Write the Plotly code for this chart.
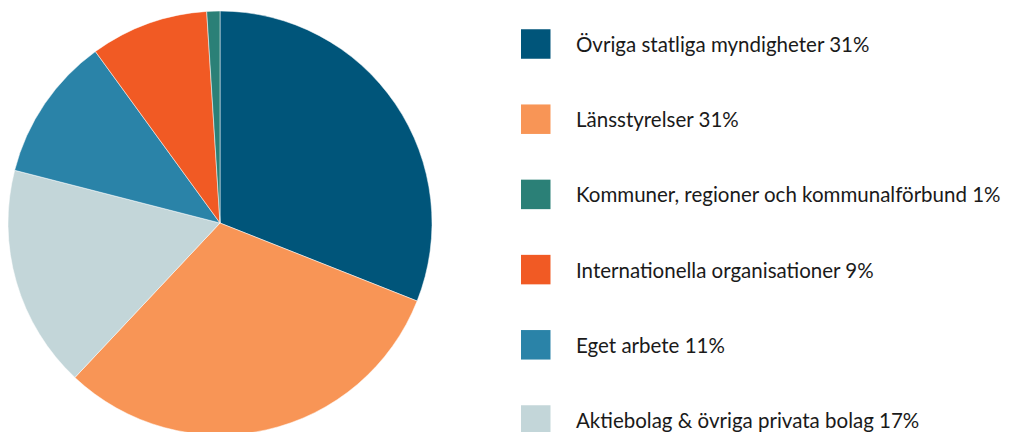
import plotly.graph_objects as go

# Pie data (clockwise from 12 o'clock)
pie_labels = ["Övriga statliga myndigheter", "Länsstyrelser", "Aktiebolag & övriga privata bolag",
              "Eget arbete", "Internationella organisationer", "Kommuner, regioner och kommunalförbund"]
pie_values = [31, 31, 17, 11, 9, 1]
pie_colors = ["#00557A", "#F89556", "#C3D6D9", "#2A83A8", "#F15A24", "#2B8077"]

# Legend (reference order)
legend_labels = ["Övriga statliga myndigheter 31%", "Länsstyrelser 31%",
                 "Kommuner, regioner och kommunalförbund 1%", "Internationella organisationer 9%",
                 "Eget arbete 11%", "Aktiebolag & övriga privata bolag 17%"]
legend_colors = ["#00557A", "#F89556", "#2B8077", "#F15A24", "#2A83A8", "#C3D6D9"]

W, H = 1010, 432
off = 8  # page body margin
cx, cy, r = 220 - off, 223 - off, 212

fig = go.Figure()
fig.add_trace(go.Pie(
    labels=pie_labels, values=pie_values, sort=False, direction="clockwise", rotation=0,
    marker=dict(colors=pie_colors, line=dict(color="white", width=0.5)),
    textinfo="none", hoverinfo="label+percent", showlegend=False,
    domain=dict(x=[max(0, (cx - r) / W), (cx + r) / W],
                y=[max(0, (H - cy - r) / H), min(1, (H - cy + r) / H)]),
))

y0, dy = 44 - off, 75.2
sq = 29.5
sx = 521 - off
tx = 574 - off
for i, (lab, col) in enumerate(zip(legend_labels, legend_colors)):
    yc = y0 + i * dy
    fig.add_shape(type="rect", xref="paper", yref="paper",
                  x0=sx / W, x1=(sx + sq) / W, y0=1 - (yc - sq / 2) / H, y1=1 - (yc + sq / 2) / H,
                  fillcolor=col, line=dict(width=0))
    fig.add_annotation(x=tx / W, y=1 - yc / H, xref="paper", yref="paper", text=lab,
                       showarrow=False, xanchor="left", yanchor="middle",
                       font=dict(family="Lato", size=20.5, color="#1a1a1a"))

fig.update_layout(width=W, height=H, margin=dict(l=0, r=0, t=0, b=0),
                  paper_bgcolor="white", plot_bgcolor="white", showlegend=False)
fig.write_html("out.html")
